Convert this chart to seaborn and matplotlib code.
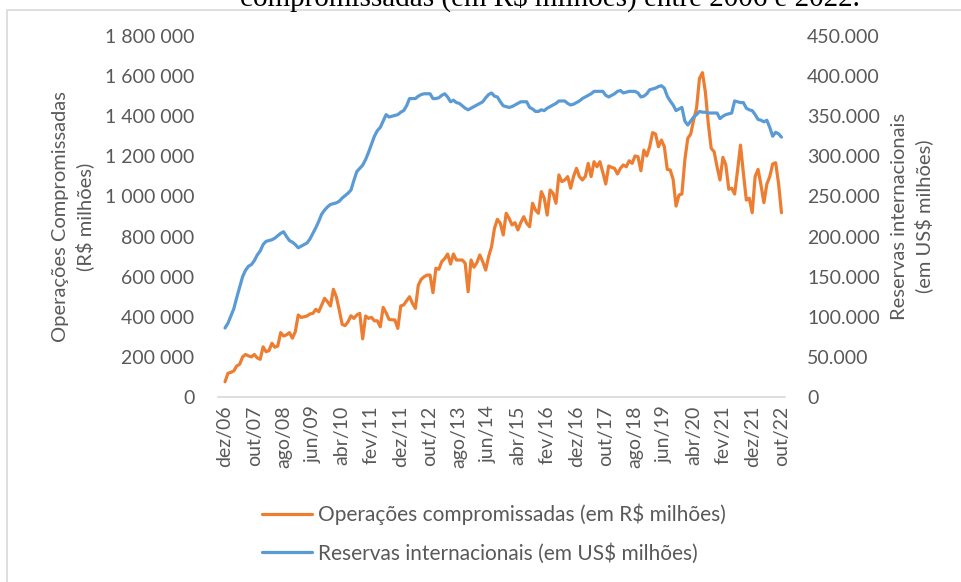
import numpy as np
import pandas as pd
import seaborn as sns
from matplotlib import pyplot as plt
from matplotlib.patches import Rectangle
from matplotlib.ticker import FuncFormatter

sns.set_theme(style="white")
plt.rcParams["font.family"] = ["Lato", "DejaVu Sans"]

# Operações compromissadas (R$ milhões), mensal, dez/06 -> out/22
operacoes = [
    76, 118, 123, 130, 155, 163, 200, 212, 205, 200,
    212, 195, 188, 250, 226, 231, 268, 248, 254, 321,
    304, 310, 321, 293, 326, 409, 397, 400, 404, 414,
    417, 437, 425, 459, 492, 475, 454, 537, 500, 434,
    362, 356, 375, 405, 392, 409, 417, 290, 404, 392,
    397, 380, 380, 350, 447, 420, 387, 385, 384, 342,
    454, 459, 480, 500, 467, 442, 558, 587, 600, 608,
    608, 520, 642, 637, 675, 690, 713, 663, 713, 683,
    683, 683, 667, 525, 683, 647, 670, 708, 675, 633,
    700, 749, 841, 886, 866, 808, 916, 891, 858, 869,
    833, 870, 899, 866, 849, 966, 932, 916, 1024, 991,
    907, 1032, 1016, 966, 1107, 1074, 1082, 1099, 1041, 1100,
    1140, 1099, 1082, 1099, 1165, 1099, 1173, 1148, 1173, 1120,
    1062, 1152, 1145, 1140, 1112, 1140, 1157, 1148, 1178, 1165,
    1202, 1198, 1128, 1231, 1202, 1248, 1318, 1311, 1248, 1281,
    1248, 1135, 1132, 1085, 952, 1007, 1012, 1182, 1290, 1311,
    1381, 1440, 1589, 1617, 1522, 1365, 1240, 1223, 1148, 1082,
    1195, 1157, 1036, 1041, 1012, 1130, 1256, 1115, 982, 991,
    919, 1099, 1135, 1057, 969, 1062, 1099, 1162, 1168, 1065,
    919,
]
operacoes = [v * 1000 for v in operacoes]

# Reservas internacionais (US$ milhões), mensal, dez/06 -> out/22
reservas = [
    86, 92, 101, 110, 124, 137, 150, 158, 163, 165,
    170, 177, 182, 190, 194, 195, 196, 198, 201, 204,
    206, 200, 195, 193, 190, 186, 188, 190, 192, 197,
    204, 211, 219, 228, 233, 237, 240, 241, 242, 244,
    248, 251, 254, 258, 270, 281, 285, 289, 296, 305,
    315, 325, 332, 336, 344, 352, 349, 350, 351, 352,
    355, 357, 363, 372, 372, 372, 375, 377, 378, 378,
    378, 372, 372, 373, 376, 378, 374, 368, 370, 367,
    366, 363, 360, 358, 360, 362, 364, 366, 368, 373,
    377, 379, 375, 374, 368, 363, 362, 361, 362, 364,
    366, 368, 368, 368, 361, 359, 356, 356, 358, 357,
    360, 362, 364, 366, 369, 369, 369, 366, 364, 365,
    367, 369, 372, 374, 376, 378, 381, 381, 381, 381,
    376, 374, 376, 378, 381, 382, 379, 380, 381, 381,
    381, 379, 374, 375, 378, 383, 384, 385, 387, 388,
    385, 375, 369, 364, 357, 359, 361, 344, 339, 344,
    349, 352, 356, 355, 355, 354, 354, 354, 354, 347,
    350, 352, 353, 354, 369, 368, 367, 367, 360, 358,
    357, 352, 346, 345, 343, 345, 336, 325, 330, 328,
    324,
]
reservas = [v * 1000 for v in reservas]

tick_labels = [
    "dez/06", "out/07", "ago/08", "jun/09", "abr/10", "fev/11", "dez/11",
    "out/12", "ago/13", "jun/14", "abr/15", "fev/16", "dez/16", "out/17",
    "ago/18", "jun/19", "abr/20", "fev/21", "dez/21", "out/22",
]

df = pd.DataFrame({
    "mes": np.arange(len(operacoes)),
    "operacoes": operacoes,
    "reservas": reservas,
})

ORANGE = "#ED7D31"
BLUE = "#5B9BD5"
GREY = "#595959"

fig = plt.figure(figsize=(9.61, 5.82), dpi=100)
ax = fig.add_axes([218 / 961, 1 - 397 / 582, (785 - 218) / 961, (397 - 36) / 582])
ax2 = ax.twinx()

sns.lineplot(data=df, x="mes", y="operacoes", ax=ax, color=ORANGE, linewidth=2.3,
             label="Operações compromissadas (em R$ milhões)", legend=False)
sns.lineplot(data=df, x="mes", y="reservas", ax=ax2, color=BLUE, linewidth=2.3,
             label="Reservas internacionais (em US$ milhões)", legend=False)

ax.set_xlim(-2.4, 191.2)
ax.set_ylim(0, 1800000)
ax2.set_ylim(0, 450000)
ax.set_yticks(np.arange(0, 1800001, 200000))
ax2.set_yticks(np.arange(0, 450001, 50000))
ax.yaxis.set_major_formatter(FuncFormatter(lambda v, _: f"{int(v):,}".replace(",", " ")))
ax2.yaxis.set_major_formatter(FuncFormatter(lambda v, _: f"{int(v):,}".replace(",", ".")))
ax.set_xticks(np.arange(0, 191, 10))
ax.set_xticklabels(tick_labels, rotation=90)

for a in (ax, ax2):
    for s in a.spines.values():
        s.set_visible(False)
    a.tick_params(length=0, colors=GREY, labelsize=14)
ax.spines["bottom"].set_visible(True)
ax.spines["bottom"].set_color("#D9D9D9")
ax.spines["bottom"].set_linewidth(1.2)
ax.tick_params(axis="y", pad=17)
ax.tick_params(axis="x", pad=6)
ax2.tick_params(axis="y", pad=16)

ax.set_xlabel("")
ax.set_ylabel("Operações Compromissadas\n(R$ milhões)", color=GREY, fontsize=14.5,
              labelpad=8, linespacing=1.4)
ax2.set_ylabel("Reservas internacionais\n(em US$ milhões)", color=GREY, fontsize=14.5,
               rotation=90, labelpad=8, linespacing=1.4)

handles = ax.get_lines()[:1] + ax2.get_lines()[:1]
fig.legend(handles, [h.get_label() for h in handles], loc="center left",
           bbox_to_anchor=(262 / 961, 1 - 533.5 / 582), frameon=False, fontsize=15,
           labelcolor=GREY, handlelength=2.4, handletextpad=0.3, labelspacing=0.85,
           borderpad=0, borderaxespad=0)

fig.text(550 / 961, 1 - 6 / 582, "compromissadas (em R$ milhões) entre 2006 e 2022.",
         ha="center", va="baseline", fontsize=21, family="Liberation Serif", color="black")

fig.patches.append(Rectangle((7 / 961, -0.1), 1.1, 1 - 10 / 582 + 0.1,
                             transform=fig.transFigure, fill=False,
                             edgecolor="#D9D9D9", linewidth=1.2))

fig.savefig("out.png", dpi=100)
